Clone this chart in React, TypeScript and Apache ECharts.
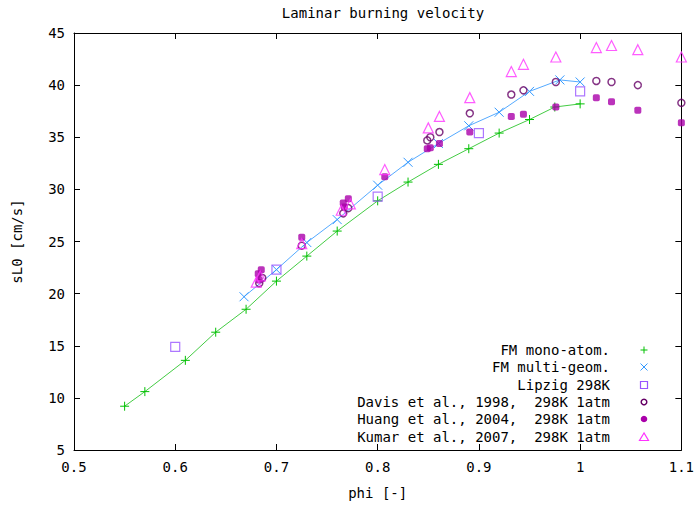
import React, { useEffect, useRef } from 'react';
import * as echarts from 'echarts';

const monoPhi = [0.55, 0.57, 0.61, 0.64, 0.67, 0.70, 0.73, 0.76, 0.80, 0.83, 0.86, 0.89, 0.92, 0.95, 0.975, 1.0];
const monoSL = [9.2, 10.6, 13.6, 16.3, 18.5, 21.2, 23.6, 26.0, 28.9, 30.7, 32.4, 33.9, 35.4, 36.7, 37.9, 38.2];

const multiPhi = [0.668, 0.70, 0.73, 0.76, 0.80, 0.83, 0.86, 0.89, 0.92, 0.95, 0.98, 1.0];
const multiSL = [19.7, 22.3, 24.9, 27.1, 30.4, 32.6, 34.4, 36.1, 37.4, 39.4, 40.5, 40.3];

const lipzigPhi = [0.6, 0.7, 0.8, 0.9, 1.0];
const lipzigSL = [14.9, 22.3, 29.3, 35.4, 39.4];

const davisPhi = [0.683, 0.686, 0.725, 0.766, 0.771, 0.849, 0.852, 0.861, 0.891, 0.932, 0.944, 0.976, 1.016, 1.031, 1.057, 1.1];
const davisSL = [21.0, 21.5, 24.6, 27.7, 28.2, 34.7, 35.0, 35.5, 37.3, 39.1, 39.5, 40.3, 40.4, 40.3, 40.0, 38.3];

const huangPhi = [0.682, 0.685, 0.683, 0.725, 0.766, 0.771, 0.767, 0.807, 0.849, 0.852, 0.861, 0.891, 0.932, 0.944, 0.976, 1.016, 1.031, 1.057, 1.1];
const huangSL = [21.9, 22.3, 21.3, 25.4, 28.7, 29.1, 28.3, 31.2, 33.9, 34.0, 34.4, 35.5, 37.0, 37.2, 37.9, 38.8, 38.4, 37.6, 36.4];

const kumarPhi = [0.68, 0.684, 0.725, 0.764, 0.773, 0.807, 0.850, 0.861, 0.891, 0.932, 0.944, 0.976, 1.016, 1.031, 1.057, 1.1];
const kumarSL = [21.1, 21.7, 24.8, 28.0, 28.6, 31.9, 35.9, 37.0, 38.8, 41.3, 42.0, 42.7, 43.6, 43.8, 43.4, 42.7];

const legendNames = [
  'FM mono-atom.',
  'FM multi-geom.',
  'Lipzig 298K',
  'Davis et al., 1998,  298K 1atm',
  'Huang et al., 2004,  298K 1atm',
  'Kumar et al., 2007,  298K 1atm',
];

const xTicks = [0.5, 0.6, 0.7, 0.8, 0.9, 1.0, 1.1];

const C_MONO = '#00c000';
const C_MONO_LINE = '#44cc44';
const C_MULTI = '#3399ff';
const C_MULTI_LINE = '#55aaff';
const C_LIPZIG = '#9955ff';
const C_DAVIS = '#660066';
const C_HUANG = '#aa00aa';
const C_KUMAR = '#ff33ff';

const FONT = '"DejaVu Sans Mono", monospace';

const zip = (a: number[], b: number[]) => a.map((v, i) => [v, b[i]]);

export default function App() {
  const ref = useRef<HTMLDivElement>(null);
  useEffect(() => {
    const chart = echarts.init(ref.current!, null, { renderer: 'svg' });
    const axisCommon = {
      type: 'value' as const,
      axisLine: { show: true, onZero: false, lineStyle: { color: '#000', width: 1 } },
      axisTick: { show: true, inside: true, length: 6, lineStyle: { color: '#000', width: 1 } },
      splitLine: { show: false },
    };
    const legendX = 610;
    const symX = 644;
    const rows = [350, 367, 385, 402, 419, 437];
    const legendGraphics: any[] = [];
    legendNames.forEach((n, i) => {
      legendGraphics.push({
        type: 'text',
        x: legendX,
        y: rows[i],
        style: {
          text: n,
          textAlign: 'right',
          textVerticalAlign: 'middle',
          font: '14px ' + FONT,
          fill: '#000',
        },
      });
    });
    const s = 3.5;
    legendGraphics.push(
      { type: 'line', shape: { x1: symX - s, y1: rows[0], x2: symX + s, y2: rows[0] }, style: { stroke: C_MONO, lineWidth: 1 } },
      { type: 'line', shape: { x1: symX, y1: rows[0] - s, x2: symX, y2: rows[0] + s }, style: { stroke: C_MONO, lineWidth: 1 } },
      { type: 'line', shape: { x1: symX - s, y1: rows[1] - s, x2: symX + s, y2: rows[1] + s }, style: { stroke: C_MULTI, lineWidth: 1 } },
      { type: 'line', shape: { x1: symX - s, y1: rows[1] + s, x2: symX + s, y2: rows[1] - s }, style: { stroke: C_MULTI, lineWidth: 1 } },
      { type: 'rect', shape: { x: symX - 3.5, y: rows[2] - 3.5, width: 7, height: 7 }, style: { stroke: C_LIPZIG, fill: 'none', lineWidth: 1.2 } },
      { type: 'circle', shape: { cx: symX, cy: rows[3], r: 2.8 }, style: { stroke: C_DAVIS, fill: 'none', lineWidth: 1.5 } },
      { type: 'circle', shape: { cx: symX, cy: rows[4], r: 3.3 }, style: { fill: C_HUANG } },
      { type: 'polygon', shape: { points: [[symX, rows[5] - 4], [symX - 4.5, rows[5] + 3.5], [symX + 4.5, rows[5] + 3.5]] }, style: { stroke: C_KUMAR, fill: 'none', lineWidth: 1.2 } },
    );

    chart.setOption({
      animation: false,
      backgroundColor: '#fff',
      title: {
        text: 'Laminar burning velocity',
        left: 378,
        top: 1,
        textAlign: 'center',
        textStyle: { fontFamily: FONT, fontSize: 14, fontWeight: 'normal', color: '#000' },
      },
      grid: { left: 74, right: 14, top: 33, bottom: 56, containLabel: false },
      xAxis: [
        {
          ...axisCommon,
          position: 'bottom',
          min: 0.5,
          max: 1.1,
          interval: 0.1,
          axisLabel: {
            margin: 10,
            fontFamily: FONT,
            fontSize: 14,
            color: '#000',
            formatter: (v: number) => {
              const m = xTicks.find((t) => Math.abs(t - v) < 1e-6);
              return m === undefined ? '' : String(+m.toFixed(1));
            },
          },
          name: 'phi [-]',
          nameLocation: 'middle',
          nameGap: 36,
          nameTextStyle: { fontFamily: FONT, fontSize: 14, color: '#000' },
        },
        {
          ...axisCommon,
          position: 'top',
          min: 0.5,
          max: 1.1,
          interval: 0.1,
          axisLabel: { show: false },
        },
      ],
      yAxis: [
        {
          ...axisCommon,
          position: 'left',
          min: 5,
          max: 45,
          interval: 5,
          axisLabel: { margin: 9, fontFamily: FONT, fontSize: 14, color: '#000' },
          name: 'sL0 [cm/s]',
          nameLocation: 'middle',
          nameRotate: 90,
          nameGap: 50,
          nameTextStyle: { fontFamily: FONT, fontSize: 14, color: '#000' },
        },
        {
          ...axisCommon,
          position: 'right',
          min: 5,
          max: 45,
          interval: 5,
          axisLabel: { show: false },
        },
      ],
      graphic: legendGraphics,
      series: [
        {
          name: legendNames[0],
          type: 'line',
          data: zip(monoPhi, monoSL),
          symbol: 'path://M5,0L5,10M0,5L10,5',
          symbolSize: 9,
          showSymbol: true,
          itemStyle: { color: 'none', borderColor: C_MONO, borderWidth: 1 },
          lineStyle: { color: C_MONO_LINE, width: 1 },
          clip: false,
          z: 3,
        },
        {
          name: legendNames[1],
          type: 'line',
          data: zip(multiPhi, multiSL),
          symbol: 'path://M0,0L10,10M10,0L0,10',
          symbolSize: 9,
          showSymbol: true,
          itemStyle: { color: 'none', borderColor: C_MULTI, borderWidth: 1 },
          lineStyle: { color: C_MULTI_LINE, width: 1 },
          clip: false,
          z: 3,
        },
        {
          name: legendNames[2],
          type: 'scatter',
          data: zip(lipzigPhi, lipzigSL),
          symbol: 'rect',
          symbolSize: 9,
          itemStyle: { color: 'none', borderColor: C_LIPZIG, borderWidth: 1.2 },
          clip: false,
          z: 4,
        },
        {
          name: legendNames[3],
          type: 'scatter',
          data: zip(davisPhi, davisSL),
          symbol: 'circle',
          symbolSize: 7,
          itemStyle: { color: 'none', borderColor: C_DAVIS, borderWidth: 1.5 },
          clip: false,
          z: 4,
        },
        {
          name: legendNames[4],
          type: 'scatter',
          data: zip(huangPhi, huangSL),
          symbol: 'roundRect',
          symbolSize: 7,
          itemStyle: { color: C_HUANG },
          clip: false,
          z: 4,
        },
        {
          name: legendNames[5],
          type: 'scatter',
          data: zip(kumarPhi, kumarSL),
          symbol: 'triangle',
          symbolSize: 10,
          itemStyle: { color: 'none', borderColor: C_KUMAR, borderWidth: 1.2 },
          clip: false,
          z: 4,
        },
      ],
    });
    return () => chart.dispose();
  }, []);
  return (
    <div
      ref={ref}
      style={{ position: 'fixed', left: 0, top: 0, width: 697, height: 506, background: '#fff' }}
    />
  );
}
